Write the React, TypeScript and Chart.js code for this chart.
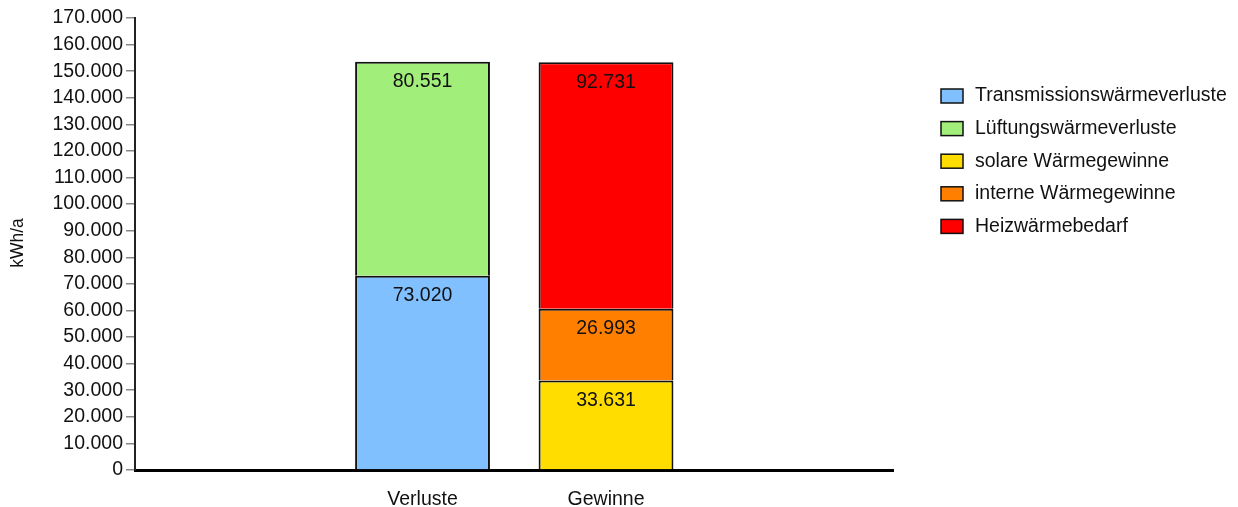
import React, { useEffect, useRef } from "react";
import { Chart, registerables } from "chart.js";

Chart.register(...registerables);

const categories = ["Verluste", "Gewinne"];
const seriesNames = [
  "Transmissionswärmeverluste",
  "Lüftungswärmeverluste",
  "solare Wärmegewinne",
  "interne Wärmegewinne",
  "Heizwärmebedarf",
];
// values per category (null = not part of this column)
const transmission = [73020, null];
const lueftung = [80551, null];
const solar = [null, 33631];
const intern = [null, 26993];
const heiz = [null, 92731];
const colors = ["#80c0ff", "#a2ee7a", "#ffdd00", "#ff8000", "#ff0000"];
const yMax = 170000;
const yStep = 10000;

const FONT = '"Liberation Sans", Arial, sans-serif';

const fmt = (v: number) =>
  String(Math.round(v)).replace(/\B(?=(\d{3})+(?!\d))/g, ".");

const labelPlugin = {
  id: "customDraw",
  afterDatasetsDraw(chart: any) {
    const ctx = chart.ctx;
    ctx.save();
    ctx.fillStyle = "#111";
    ctx.font = `19.5px ${FONT}`;
    ctx.textAlign = "center";
    ctx.textBaseline = "middle";
    chart.data.datasets.forEach((ds: any, i: number) => {
      const meta = chart.getDatasetMeta(i);
      meta.data.forEach((el: any, j: number) => {
        const p = ds.data[j];
        if (!p || p.y == null) return;
        ctx.fillText(fmt(p.y), el.x, el.y + 20);
      });
    });
    ctx.restore();
  },
  afterDraw(chart: any) {
    const ctx = chart.ctx;
    ctx.save();
    ctx.fillStyle = "#111";
    ctx.font = `17.5px ${FONT}`;
    ctx.textAlign = "center";
    ctx.textBaseline = "middle";
    ctx.translate(18, 243);
    ctx.rotate(-Math.PI / 2);
    ctx.fillText("kWh/a", 0, 0);
    ctx.restore();
    ctx.save();
    ctx.font = `19.5px ${FONT}`;
    ctx.textBaseline = "middle";
    ctx.textAlign = "left";
    seriesNames.forEach((name, i) => {
      const cy = 96 + i * 32.6;
      ctx.fillStyle = colors[i];
      ctx.fillRect(941, cy - 7, 22, 14);
      ctx.strokeStyle = "#111";
      ctx.lineWidth = 1.5;
      ctx.strokeRect(941, cy - 7, 22, 14);
      ctx.fillStyle = "#111";
      ctx.fillText(name, 975, cy);
    });
    ctx.restore();
  },
};

export default function App() {
  const ref = useRef<HTMLCanvasElement | null>(null);
  useEffect(() => {
    if (!ref.current) return;
    const dataArrays = [transmission, lueftung, solar, intern, heiz];
    const chart = new Chart(ref.current, {
      type: "bar",
      data: {
        datasets: dataArrays.map((d, i) => ({
          label: seriesNames[i],
          data: d
            .map((v, j) => ({ x: j + 1, y: v }))
            .filter((p) => p.y != null) as any,
          backgroundColor: colors[i],
          borderColor: "#111",
          borderWidth: 2,
          borderSkipped: "start",
          categoryPercentage: 1,
          barPercentage: 0.735,
        })),
      },
      options: {
        animation: false,
        responsive: false,
        layout: { padding: { top: 18, right: 345, left: 0, bottom: 0 } },
        plugins: {
          legend: { display: false },
          tooltip: { enabled: false },
        },
        scales: {
          x: {
            type: "linear",
            stacked: true,
            min: -0.567,
            max: 3.564,
            offset: false,
            grid: { display: false },
            border: { display: true, color: "#000", width: 3 },
            afterBuildTicks: (s: any) => {
              s.ticks = categories.map((_, i) => ({ value: i + 1 }));
            },
            ticks: {
              color: "#111",
              font: { family: FONT, size: 19.5 },
              padding: 10,
              maxRotation: 0,
              autoSkip: false,
              callback: (v: any) => categories[Math.round(Number(v)) - 1] ?? "",
            },
            afterFit: (s: any) => {
              s.height = 37;
            },
          },
          y: {
            stacked: true,
            min: 0,
            max: yMax,
            grid: {
              drawOnChartArea: false,
              drawTicks: true,
              tickLength: 9,
              color: "#888",
              lineWidth: 1.5,
            },
            border: { display: true, color: "#222", width: 2 },
            ticks: {
              stepSize: yStep,
              color: "#111",
              font: { family: FONT, size: 19.5 },
              padding: 3,
              callback: (v: any) => fmt(Number(v)),
            },
            afterFit: (s: any) => {
              s.width = 135;
            },
          },
        },
      },
      plugins: [labelPlugin],
    });
    return () => chart.destroy();
  }, []);
  return (
    <div style={{ position: "absolute", left: 0, top: 0, width: 1238, height: 507, background: "#fff" }}>
      <canvas ref={ref} width={1238} height={507} />
    </div>
  );
}
